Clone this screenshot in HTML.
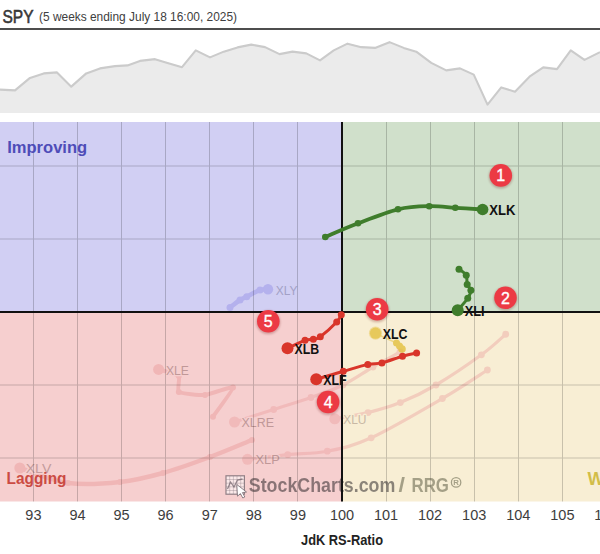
<!DOCTYPE html><html><head><meta charset="utf-8"><style>html,body{margin:0;padding:0;background:#fff;width:600px;height:554px;overflow:hidden}svg{display:block}</style></head><body><svg width="600" height="554" viewBox="0 0 600 554" font-family="Liberation Sans, sans-serif"><defs><filter id="blur" x="-50%" y="-50%" width="200%" height="200%"><feGaussianBlur stdDeviation="1.2"/></filter><clipPath id="cc"><rect x="0" y="122" width="600" height="379.5"/></clipPath></defs><rect width="600" height="554" fill="#fff"/><text x="2.5" y="22.6" font-size="18.5" fill="#383838" stroke="#383838" stroke-width="0.6" textLength="31" lengthAdjust="spacingAndGlyphs">SPY</text><text x="39" y="20.9" font-size="13" fill="#404040" textLength="198" lengthAdjust="spacingAndGlyphs">(5 weeks ending July 18 16:00, 2025)</text><rect x="0" y="28" width="600" height="2" fill="#4d4d4d"/><path d="M0,113 L0,89.25 L15,90 L30,77.5 L43.75,73 L57,72 L71.25,86.25 L86.25,73 L100,68 L115,65.75 L127.5,65 L140,60.5 L155,58.75 L167.5,62.5 L182,66.75 L195.75,50 L210,57 L223.75,51.25 L237.5,47 L251.25,44.25 L265,46.75 L279.5,53.75 L292.5,51.25 L306.25,53 L320,60 L333.75,50 L347.5,43.25 L361.25,46.75 L375,47.5 L389.5,41.75 L403.75,47.5 L416.25,51.25 L431.25,62.5 L446.25,70 L460,68 L473.75,74.25 L487.5,104.25 L501.25,87 L515,91.25 L529.5,76.25 L543.25,67 L557,68.75 L570.75,50 L584.5,59.5 L600,51.75 L600,113 Z" fill="#ebebeb"/><polyline points="0,89.25 15,90 30,77.5 43.75,73 57,72 71.25,86.25 86.25,73 100,68 115,65.75 127.5,65 140,60.5 155,58.75 167.5,62.5 182,66.75 195.75,50 210,57 223.75,51.25 237.5,47 251.25,44.25 265,46.75 279.5,53.75 292.5,51.25 306.25,53 320,60 333.75,50 347.5,43.25 361.25,46.75 375,47.5 389.5,41.75 403.75,47.5 416.25,51.25 431.25,62.5 446.25,70 460,68 473.75,74.25 487.5,104.25 501.25,87 515,91.25 529.5,76.25 543.25,67 557,68.75 570.75,50 584.5,59.5 600,51.75" fill="none" stroke="#cbcbcb" stroke-width="2.1" stroke-linejoin="round" transform="translate(0,0.4)"/><rect x="0" y="122" width="342" height="190" fill="#d1cff3"/><rect x="342" y="122" width="258" height="190" fill="#d0e0cb"/><rect x="0" y="312" width="342" height="189.5" fill="#f6cfcf"/><rect x="342" y="312" width="258" height="189.5" fill="#f8eed4"/><g clip-path="url(#cc)"><g opacity="0.48"><path d="M252,440 C245.0,442.8 224.8,451.5 210.0,457.0 C195.2,462.5 178.0,468.8 163.0,473.0 C148.0,477.2 135.8,480.3 120.0,482.0 C104.2,483.7 84.7,485.3 68.0,483.0 C51.3,480.7 27.8,470.5 19.8,468.0" fill="none" stroke="#eb9c9c" stroke-width="4.5" stroke-linecap="round" stroke-linejoin="round"/><circle cx="252" cy="440" r="3" fill="#eb9c9c"/><circle cx="210" cy="457" r="3" fill="#eb9c9c"/><circle cx="163" cy="473" r="3" fill="#eb9c9c"/><circle cx="120" cy="482" r="3" fill="#eb9c9c"/><circle cx="68" cy="483" r="3" fill="#eb9c9c"/><circle cx="19.8" cy="468" r="5.5" fill="#eb9c9c"/></g><g opacity="0.48"><path d="M213,416.7 C214.4,414.6 233.6,389.1 233.0,387.5 C232.4,385.9 208.9,394.7 205.0,395.0 C201.1,395.3 180.7,393.4 178.8,392.0 C176.9,390.6 180.2,377.6 178.8,376.0 C177.4,374.4 160.0,369.9 158.6,369.4" fill="none" stroke="#eb9c9c" stroke-width="4" stroke-linecap="round" stroke-linejoin="round"/><circle cx="213" cy="416.7" r="3" fill="#eb9c9c"/><circle cx="233" cy="387.5" r="3" fill="#eb9c9c"/><circle cx="205" cy="395" r="3" fill="#eb9c9c"/><circle cx="178.8" cy="392" r="3" fill="#eb9c9c"/><circle cx="178.8" cy="376" r="3" fill="#eb9c9c"/><circle cx="158.6" cy="369.4" r="5.5" fill="#eb9c9c"/></g><g opacity="0.4"><path d="M400,352 C395.5,354.5 382.5,361.5 373.0,367.0 C363.5,372.5 353.3,379.9 343.0,385.0 C332.7,390.1 322.6,393.4 311.0,397.5 C299.4,401.6 286.4,405.4 273.7,409.5 C260.9,413.6 241.0,419.9 234.5,422.0" fill="none" stroke="#eb9c9c" stroke-width="3.2" stroke-linecap="round" stroke-linejoin="round"/><circle cx="400" cy="352" r="3.4" fill="#eb9c9c"/><circle cx="373" cy="367" r="3.4" fill="#eb9c9c"/><circle cx="343" cy="385" r="3.4" fill="#eb9c9c"/><circle cx="311" cy="397.5" r="3.4" fill="#eb9c9c"/><circle cx="273.7" cy="409.5" r="3.4" fill="#eb9c9c"/><circle cx="234.5" cy="422" r="5.5" fill="#eb9c9c"/></g><g opacity="0.4"><path d="M487.4,370 C479.9,374.8 461.8,387.2 442.4,398.5 C423.0,409.8 390.4,429.0 371.2,437.8 C352.0,446.6 341.2,448.4 327.3,451.2 C313.4,454.0 301.0,453.3 287.7,454.7 C274.4,456.1 254.2,458.5 247.5,459.3" fill="none" stroke="#eb9c9c" stroke-width="3.2" stroke-linecap="round" stroke-linejoin="round"/><circle cx="487.4" cy="370" r="3.4" fill="#eb9c9c"/><circle cx="442.4" cy="398.5" r="3.4" fill="#eb9c9c"/><circle cx="371.2" cy="437.8" r="3.4" fill="#eb9c9c"/><circle cx="327.3" cy="451.2" r="3.4" fill="#eb9c9c"/><circle cx="287.7" cy="454.7" r="3.4" fill="#eb9c9c"/><circle cx="247.5" cy="459.3" r="5.5" fill="#eb9c9c"/></g><g opacity="0.4"><path d="M505.7,334.25 C501.6,337.7 493.0,346.3 481.4,354.8 C469.8,363.3 449.5,377.0 436.0,385.0 C422.5,393.0 411.6,398.0 400.3,402.6 C389.0,407.2 378.9,409.9 368.0,412.6 C357.1,415.3 340.3,417.8 334.8,418.8" fill="none" stroke="#eb9c9c" stroke-width="3.2" stroke-linecap="round" stroke-linejoin="round"/><circle cx="505.7" cy="334.25" r="3.4" fill="#eb9c9c"/><circle cx="481.4" cy="354.8" r="3.4" fill="#eb9c9c"/><circle cx="436" cy="385" r="3.4" fill="#eb9c9c"/><circle cx="400.3" cy="402.6" r="3.4" fill="#eb9c9c"/><circle cx="368" cy="412.6" r="3.4" fill="#eb9c9c"/><circle cx="334.75" cy="418.8" r="5.5" fill="#eb9c9c"/></g><g opacity="0.8"><path d="M230,307.5 C231.7,306.2 237.2,301.8 240.0,300.0 C242.8,298.2 243.4,298.4 246.7,296.7 C250.0,295.0 256.4,291.2 260.0,290.0 C263.6,288.8 266.7,289.3 268.0,289.2" fill="none" stroke="#aeaaec" stroke-width="4.5" stroke-linecap="round" stroke-linejoin="round"/><circle cx="230" cy="307.5" r="3.5" fill="#aeaaec"/><circle cx="240" cy="300" r="3.5" fill="#aeaaec"/><circle cx="246.7" cy="296.7" r="3.5" fill="#aeaaec"/><circle cx="260" cy="290" r="3.5" fill="#aeaaec"/><circle cx="268" cy="289.2" r="5.2" fill="#aeaaec"/></g><text x="25.7" y="472.7" font-size="12" fill="#c49c9c" stroke="#f6cfcf" stroke-width="2.6" stroke-linejoin="round" paint-order="stroke" textLength="25.6" lengthAdjust="spacingAndGlyphs">XLV</text><text x="166" y="374.8" font-size="12.5" fill="#c09898" stroke="#f6cfcf" stroke-width="2.6" stroke-linejoin="round" paint-order="stroke" textLength="23" lengthAdjust="spacingAndGlyphs">XLE</text><text x="241.5" y="426.9" font-size="12.5" fill="#c09898" stroke="#f6cfcf" stroke-width="2.6" stroke-linejoin="round" paint-order="stroke" textLength="32.5" lengthAdjust="spacingAndGlyphs">XLRE</text><text x="255.5" y="464.3" font-size="12.5" fill="#c09898" stroke="#f6cfcf" stroke-width="2.6" stroke-linejoin="round" paint-order="stroke" textLength="24.3" lengthAdjust="spacingAndGlyphs">XLP</text><clipPath id="cr"><rect x="342" y="312" width="258" height="190"/></clipPath><clipPath id="pk"><rect x="0" y="312" width="342" height="190"/></clipPath><g clip-path="url(#cr)"><text x="343.2" y="423.5" font-size="12.5" fill="#c8b8a4" stroke="#f8eed4" stroke-width="2.6" stroke-linejoin="round" paint-order="stroke" textLength="23.3" lengthAdjust="spacingAndGlyphs">XLU</text></g><g clip-path="url(#pk)"><text x="343.2" y="423.5" font-size="12.5" fill="#c09898" stroke="#f6cfcf" stroke-width="2.6" stroke-linejoin="round" paint-order="stroke" textLength="23.3" lengthAdjust="spacingAndGlyphs">XLU</text></g><text x="275.8" y="294.7" font-size="12" fill="#a3a1c6" stroke="#d1cff3" stroke-width="2.6" stroke-linejoin="round" paint-order="stroke" textLength="21.7" lengthAdjust="spacingAndGlyphs">XLY</text></g><g fill="#000" opacity="0.19"><rect x="33.0" y="122" width="1" height="379.5"/><rect x="77.0" y="122" width="1" height="379.5"/><rect x="121.0" y="122" width="1" height="379.5"/><rect x="165.0" y="122" width="1" height="379.5"/><rect x="209.0" y="122" width="1" height="379.5"/><rect x="253.0" y="122" width="1" height="379.5"/><rect x="297.0" y="122" width="1" height="379.5"/><rect x="386.0" y="122" width="1" height="379.5"/><rect x="430.0" y="122" width="1" height="379.5"/><rect x="474.0" y="122" width="1" height="379.5"/><rect x="518.0" y="122" width="1" height="379.5"/><rect x="562.0" y="122" width="1" height="379.5"/><rect x="0" y="165.5" width="600" height="1"/><rect x="0" y="238.5" width="600" height="1"/><rect x="0" y="384.5" width="600" height="1"/><rect x="0" y="457.5" width="600" height="1"/></g><text x="7.2" y="153" font-size="17.4" font-weight="bold" fill="#4e4cb8" textLength="80" lengthAdjust="spacingAndGlyphs">Improving</text><text x="6.5" y="484.2" font-size="17" font-weight="bold" fill="#cb4b43" textLength="60" lengthAdjust="spacingAndGlyphs">Lagging</text><text x="587.5" y="485" font-size="18" font-weight="bold" fill="#d2bd48">Weakening</text><g><rect x="226" y="475.8" width="18.4" height="18.4" fill="#fff" fill-opacity="0.55" stroke="#6e6068" stroke-opacity="0.75" stroke-width="1.2"/><line x1="229.7" y1="476" x2="229.7" y2="494" stroke="#8a7a84" stroke-opacity="0.5" stroke-width="0.7"/><line x1="226" y1="479.5" x2="244.4" y2="479.5" stroke="#8a7a84" stroke-opacity="0.5" stroke-width="0.7"/><line x1="233.4" y1="476" x2="233.4" y2="494" stroke="#8a7a84" stroke-opacity="0.5" stroke-width="0.7"/><line x1="226" y1="483.2" x2="244.4" y2="483.2" stroke="#8a7a84" stroke-opacity="0.5" stroke-width="0.7"/><line x1="237.0" y1="476" x2="237.0" y2="494" stroke="#8a7a84" stroke-opacity="0.5" stroke-width="0.7"/><line x1="226" y1="486.8" x2="244.4" y2="486.8" stroke="#8a7a84" stroke-opacity="0.5" stroke-width="0.7"/><line x1="240.7" y1="476" x2="240.7" y2="494" stroke="#8a7a84" stroke-opacity="0.5" stroke-width="0.7"/><line x1="226" y1="490.5" x2="244.4" y2="490.5" stroke="#8a7a84" stroke-opacity="0.5" stroke-width="0.7"/><polyline points="227.5,489 230.5,482 234,487 237.5,480 242.5,479" fill="none" stroke="#6e6068" stroke-opacity="0.7" stroke-width="1.3"/><path d="M236.8,484.5 L246.5,492 L242.4,492.6 L244.8,497 L242.8,498 L240.4,493.6 L237.5,496.2 Z" fill="#fff" stroke="#6e6068" stroke-opacity="0.75" stroke-width="1" stroke-linejoin="round"/></g><g><text x="248.8" y="491.7" font-size="20" font-weight="bold" fill="#1e1a1e" opacity="0.5" textLength="146.5" lengthAdjust="spacingAndGlyphs">StockCharts.com</text><g fill="#52523a" opacity="0.5"><text x="398.5" y="491.7" font-size="20" font-weight="bold" textLength="6.5" lengthAdjust="spacingAndGlyphs">/</text><text x="411.5" y="491.8" font-size="19.5" font-weight="bold" textLength="37.5" lengthAdjust="spacingAndGlyphs">RRG</text><circle cx="456.1" cy="482.4" r="4.7" fill="none" stroke="#52523a" stroke-width="1.3"/><text x="456.1" y="485.2" font-size="7.8" font-weight="bold" text-anchor="middle">R</text></g></g><rect x="341" y="122" width="2" height="379.5" fill="#111"/><rect x="0" y="311" width="600" height="2" fill="#111"/><g opacity="1.0"><path d="M325.3,237 C330.8,234.7 345.9,227.9 358.0,223.3 C370.1,218.7 386.1,212.2 398.0,209.3 C409.9,206.5 419.6,206.4 429.2,206.2 C438.8,205.9 446.4,207.2 455.3,207.8 C464.2,208.4 478.1,209.2 482.6,209.5" fill="none" stroke="#3f7d2c" stroke-width="3.8" stroke-linecap="round" stroke-linejoin="round"/><circle cx="325.3" cy="237" r="3.3" fill="#3f7d2c"/><circle cx="358" cy="223.3" r="3.3" fill="#3f7d2c"/><circle cx="398" cy="209.3" r="3.3" fill="#3f7d2c"/><circle cx="429.2" cy="206.2" r="3.3" fill="#3f7d2c"/><circle cx="455.3" cy="207.8" r="3.3" fill="#3f7d2c"/><circle cx="482.6" cy="209.5" r="5.8" fill="#3f7d2c"/></g><g opacity="1.0"><path d="M459,269.25 C460.2,270.2 464.9,272.7 466.2,275.2 C467.6,277.8 466.4,281.9 467.2,284.4 C468.0,286.9 470.8,288.0 470.9,290.3 C471.0,292.6 469.9,294.9 467.8,298.2 C465.6,301.5 459.4,308.2 457.7,310.2" fill="none" stroke="#3f7d2c" stroke-width="3" stroke-linecap="round" stroke-linejoin="round"/><circle cx="459" cy="269.25" r="3.5" fill="#3f7d2c"/><circle cx="466.25" cy="275.25" r="3.5" fill="#3f7d2c"/><circle cx="467.2" cy="284.4" r="3.5" fill="#3f7d2c"/><circle cx="470.9" cy="290.3" r="3.5" fill="#3f7d2c"/><circle cx="467.75" cy="298.2" r="3.5" fill="#3f7d2c"/><circle cx="457.7" cy="310.2" r="6" fill="#3f7d2c"/></g><g opacity="1.0"><path d="M341.3,314.7 C340.5,315.9 340.2,318.3 336.7,322.0 C333.2,325.7 324.2,333.8 320.3,336.7 C316.4,339.6 315.9,338.6 313.3,339.2 C310.8,339.8 309.3,338.8 305.0,340.3 C300.7,341.8 290.4,347.0 287.5,348.3" fill="none" stroke="#d9352a" stroke-width="3" stroke-linecap="round" stroke-linejoin="round"/><circle cx="341.3" cy="314.7" r="3.5" fill="#d9352a"/><circle cx="336.7" cy="322" r="3.5" fill="#d9352a"/><circle cx="320.3" cy="336.7" r="3.5" fill="#d9352a"/><circle cx="313.3" cy="339.2" r="3.5" fill="#d9352a"/><circle cx="305" cy="340.3" r="3.5" fill="#d9352a"/><circle cx="287.5" cy="348.3" r="6" fill="#d9352a"/></g><g opacity="1.0"><path d="M416.6,352.9 C414.2,353.4 408.3,354.5 402.5,356.2 C396.7,357.9 387.7,361.5 381.9,362.9 C376.1,364.3 374.2,363.0 367.8,364.4 C361.4,365.8 351.9,368.8 343.3,371.3 C334.7,373.8 320.8,377.9 316.2,379.2" fill="none" stroke="#d9352a" stroke-width="3" stroke-linecap="round" stroke-linejoin="round"/><circle cx="416.6" cy="352.9" r="3.5" fill="#d9352a"/><circle cx="402.5" cy="356.2" r="3.5" fill="#d9352a"/><circle cx="381.9" cy="362.9" r="3.5" fill="#d9352a"/><circle cx="367.8" cy="364.4" r="3.5" fill="#d9352a"/><circle cx="343.3" cy="371.3" r="3.5" fill="#d9352a"/><circle cx="316.25" cy="379.2" r="6" fill="#d9352a"/></g><g opacity="0.8"><path d="M402,349 L399.5,346 L396.5,343" fill="none" stroke="#e3c03e" stroke-width="3"/><path d="M396.5,343 L375.5,333.5" fill="none" stroke="#e3c03e" stroke-width="1.6" opacity="0.6"/><circle cx="402" cy="349" r="3.8" fill="#e3c03e"/><circle cx="399.5" cy="346" r="3.5" fill="#e3c03e"/><circle cx="396.5" cy="343" r="3.5" fill="#e3c03e"/><circle cx="375.5" cy="333.2" r="6.6" fill="#e3c03e" opacity="0.5"/><circle cx="375.5" cy="333.2" r="5.6" fill="#e3c03e"/></g><text x="489.2" y="215.4" font-size="14.6" font-weight="bold" fill="#111" opacity="1.0" textLength="26.2" lengthAdjust="spacingAndGlyphs">XLK</text><text x="464.75" y="316.1" font-size="14.6" font-weight="bold" fill="#111" opacity="1.0" textLength="19.8" lengthAdjust="spacingAndGlyphs">XLI</text><text x="294.6" y="353.9" font-size="14.6" font-weight="bold" fill="#111" opacity="1.0" textLength="24.6" lengthAdjust="spacingAndGlyphs">XLB</text><text x="323.3" y="385" font-size="14.6" font-weight="bold" fill="#111" opacity="1.0" textLength="23.4" lengthAdjust="spacingAndGlyphs">XLF</text><text x="382.8" y="338.8" font-size="14.6" font-weight="bold" fill="#111" opacity="1.0" textLength="24.7" lengthAdjust="spacingAndGlyphs">XLC</text><circle cx="500.8" cy="176.4" r="12" fill="#600" opacity="0.25" filter="url(#blur)"/><circle cx="500.8" cy="175.4" r="11.3" fill="#ec3a44"/><text x="500.8" y="181.20000000000002" font-size="16" fill="#fff" stroke="#fff" stroke-width="0.35" text-anchor="middle">1</text><circle cx="505.5" cy="298.75" r="12" fill="#600" opacity="0.25" filter="url(#blur)"/><circle cx="505.5" cy="297.75" r="11.3" fill="#ec3a44"/><text x="505.5" y="303.55" font-size="16" fill="#fff" stroke="#fff" stroke-width="0.35" text-anchor="middle">2</text><circle cx="377.2" cy="310.2" r="12" fill="#600" opacity="0.25" filter="url(#blur)"/><circle cx="377.2" cy="309.2" r="11.3" fill="#ec3a44"/><text x="377.2" y="315.0" font-size="16" fill="#fff" stroke="#fff" stroke-width="0.35" text-anchor="middle">3</text><circle cx="328.1" cy="403" r="12" fill="#600" opacity="0.25" filter="url(#blur)"/><circle cx="328.1" cy="402" r="11.3" fill="#ec3a44"/><text x="328.1" y="407.8" font-size="16" fill="#fff" stroke="#fff" stroke-width="0.35" text-anchor="middle">4</text><circle cx="268.3" cy="322.3" r="12" fill="#600" opacity="0.25" filter="url(#blur)"/><circle cx="268.3" cy="321.3" r="11.3" fill="#ec3a44"/><text x="268.3" y="327.1" font-size="16" fill="#fff" stroke="#fff" stroke-width="0.35" text-anchor="middle">5</text><text x="33.4" y="520.2" font-size="14.5" fill="#3d3d3d" text-anchor="middle">93</text><text x="77.5" y="520.2" font-size="14.5" fill="#3d3d3d" text-anchor="middle">94</text><text x="121.6" y="520.2" font-size="14.5" fill="#3d3d3d" text-anchor="middle">95</text><text x="165.6" y="520.2" font-size="14.5" fill="#3d3d3d" text-anchor="middle">96</text><text x="209.7" y="520.2" font-size="14.5" fill="#3d3d3d" text-anchor="middle">97</text><text x="253.8" y="520.2" font-size="14.5" fill="#3d3d3d" text-anchor="middle">98</text><text x="297.9" y="520.2" font-size="14.5" fill="#3d3d3d" text-anchor="middle">99</text><text x="342.0" y="520.2" font-size="14.5" fill="#3d3d3d" text-anchor="middle">100</text><text x="386.0" y="520.2" font-size="14.5" fill="#3d3d3d" text-anchor="middle">101</text><text x="430.1" y="520.2" font-size="14.5" fill="#3d3d3d" text-anchor="middle">102</text><text x="474.2" y="520.2" font-size="14.5" fill="#3d3d3d" text-anchor="middle">103</text><text x="518.3" y="520.2" font-size="14.5" fill="#3d3d3d" text-anchor="middle">104</text><text x="562.4" y="520.2" font-size="14.5" fill="#3d3d3d" text-anchor="middle">105</text><text x="606.4" y="520.2" font-size="14.5" fill="#3d3d3d" text-anchor="middle">106</text><text x="301" y="545.4" font-size="14" font-weight="bold" fill="#222" textLength="82" lengthAdjust="spacingAndGlyphs">JdK RS-Ratio</text></svg></body></html>
